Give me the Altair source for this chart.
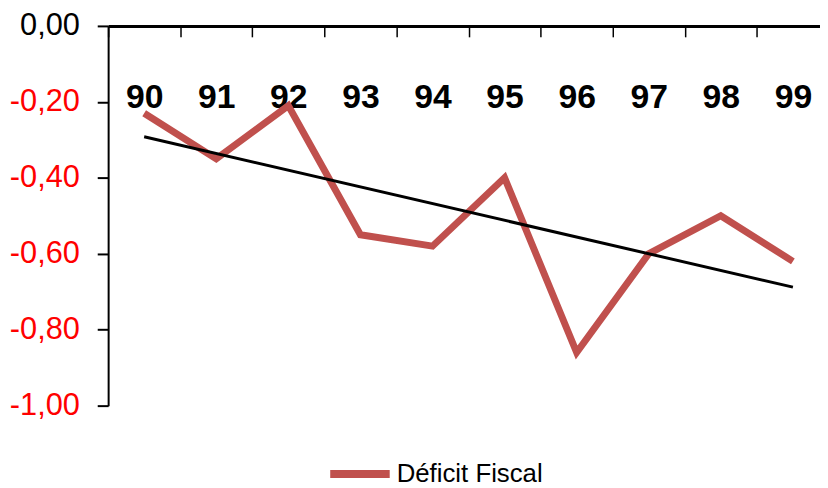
import altair as alt
import pandas as pd

years = [90, 91, 92, 93, 94, 95, 96, 97, 98, 99]
deficit = [-0.23, -0.35, -0.21, -0.55, -0.58, -0.40, -0.86, -0.60, -0.50, -0.62]
series_name = "Déficit Fiscal"
y_ticks = [0.0, -0.2, -0.4, -0.6, -0.8, -1.0]

df = pd.DataFrame({"year": years, "value": deficit, "serie": [series_name] * len(years)})

FONT = "Liberation Sans, Arial, sans-serif"
W, H = 718, 383

x_enc = alt.X(
    "year:O",
    scale=alt.Scale(paddingInner=0, paddingOuter=0, range=[0, 727]),
    axis=alt.Axis(
        orient="bottom", offset=-H, title=None, labelAngle=0,
        domainColor="black", domainWidth=3,
        tickColor="black", tickWidth=1.5, tickSize=11, tickBand="extent",
        labelFont=FONT, labelFontSize=34, labelFontWeight="bold", labelColor="black",
        labelPadding=44,
    ),
)
y_enc = alt.Y(
    "value:Q",
    scale=alt.Scale(domain=[-1, 0], nice=False, zero=False),
    axis=alt.Axis(
        values=y_ticks, title=None, grid=False,
        domainColor="black", domainWidth=2,
        tickColor="black", tickWidth=2, tickSize=11,
        labelFont=FONT, labelFontSize=31, labelPadding=18,
        labelExpr="replace(replace(format(datum.value, '.2f'), '.', ','), '\u2212', '-')",
        labelColor=alt.expr("datum.value == 0 ? 'black' : '#FF0000'"),
    ),
)

line = alt.Chart(df).mark_line(strokeWidth=7).encode(
    x=x_enc,
    y=y_enc,
    color=alt.Color(
        "serie:N",
        scale=alt.Scale(domain=[series_name], range=["#C0504D"]),
        legend=alt.Legend(
            title=None, orient="none", legendX=220, legendY=418,
            symbolType="stroke", symbolSize=3600, symbolStrokeWidth=8,
            labelFont=FONT, labelFontSize=26, labelColor="black", labelLimit=400,
            labelOffset=3,
        ),
    ),
)

trend = alt.Chart(df).transform_regression("year", "value").mark_line(
    color="black", strokeWidth=3
).encode(x="year:O", y="value:Q")

chart = alt.layer(line, trend).properties(
    width=W, height=H,
    autosize=alt.AutoSizeParams(type="none"),
    padding={"left": 101, "top": 16, "right": 0, "bottom": 81},
).configure(background="white").configure_view(stroke=None)

chart.save("out.html", embed_options={"renderer": "svg", "actions": False})
